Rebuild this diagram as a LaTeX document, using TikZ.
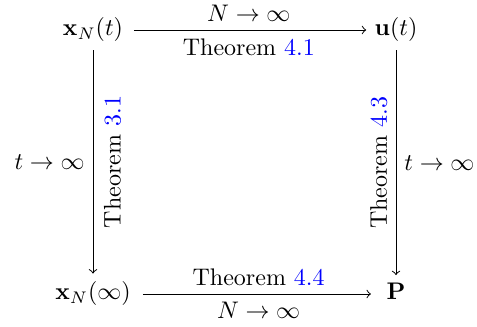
\documentclass[tikz,border=0pt]{standalone}
\usepackage{amsmath}
\begin{document}
\begin{tikzpicture}[x=0.41667pt,y=-0.41667pt,
  obj/.style={anchor=base},
  arr/.style={->}]
\useasboundingbox (0,0) rectangle (477,327);
\node[obj] (xNt) at (93,36) {$\mathbf{x}_N(t)$};
\node[obj] (ut) at (396,36) {$\mathbf{u}(t)$};
\node[obj] (xNi) at (93,300) {$\mathbf{x}_N(\infty)$};
\node[obj] (P) at (396,300) {$\mathbf{P}$};
\draw[arr, shorten <=1pt] (xNt.east) -- node[above] {$N\to\infty$} node[below] {Theorem \textcolor{blue}{4.1}} (xNt.east -| ut.west);
\draw[arr, shorten <=1.5pt, shorten >=3pt] (xNi.east) -- node[above] {Theorem \textcolor{blue}{4.4}} node[below] {$N\to\infty$} (xNi.east -| P.west);
\draw[arr] (xNt) -- node[left] {$t\to\infty$} node[rotate=90, anchor=north, yshift=-1pt] {Theorem \textcolor{blue}{3.1}} (xNi);
\draw[arr] (ut) -- node[right] {$t\to\infty$} node[rotate=90, anchor=south] {Theorem \textcolor{blue}{4.3}} (P);
\end{tikzpicture}
\end{document}
